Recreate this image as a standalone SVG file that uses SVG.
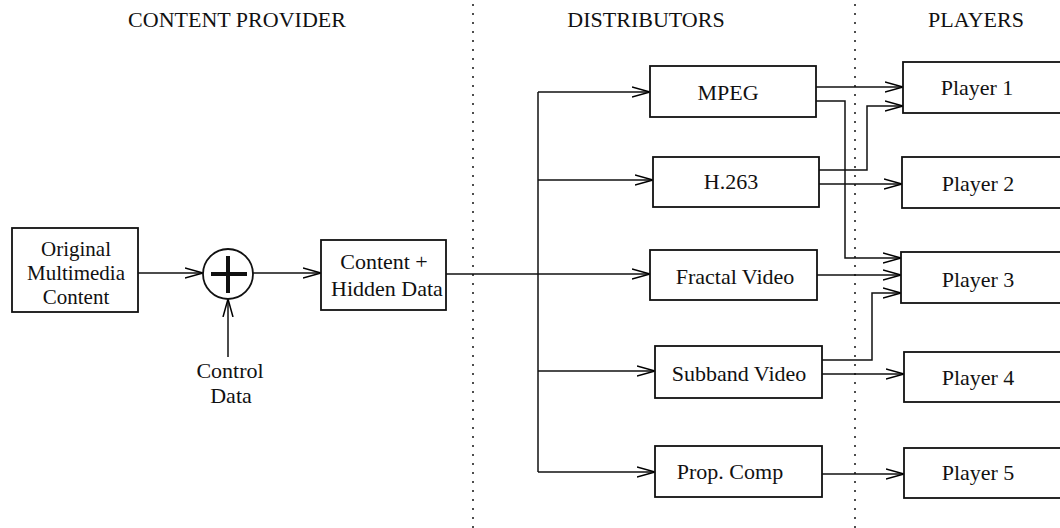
<svg xmlns="http://www.w3.org/2000/svg" width="1060" height="528" viewBox="0 0 1060 528">
<defs>
<marker id="arr" markerUnits="userSpaceOnUse" markerWidth="22" markerHeight="14" refX="18" refY="6" orient="auto">
<path d="M0,1 L18,6 L0,11" fill="none" stroke="#000" stroke-width="1.5"/>
</marker>
<style>
text{font-family:"Liberation Serif","Times New Roman",serif;font-size:22px;fill:#111;text-anchor:middle}
.sm{font-size:21px}
.box{fill:#fff;stroke:#111;stroke-width:1.8}
.ln{fill:none;stroke:#111;stroke-width:1.5}
.ar{fill:none;stroke:#111;stroke-width:1.5;marker-end:url(#arr)}
.dot{fill:none;stroke:#222;stroke-width:1.6;stroke-dasharray:2 7}
</style>
</defs>
<rect width="1060" height="528" fill="#fff"/>
<g id="headers">
<text x="237" y="27">CONTENT PROVIDER</text>
<text x="646" y="27">DISTRIBUTORS</text>
<text x="976" y="27">PLAYERS</text>
</g>
<g id="separators">
<line class="dot" x1="473" y1="4" x2="473" y2="528"/>
<line class="dot" x1="855" y1="4" x2="855" y2="528"/>
</g>
<g id="connectors">
<line class="ar" x1="138" y1="273" x2="203" y2="273"/>
<line class="ar" x1="253" y1="273" x2="321" y2="273"/>
<line class="ar" x1="228" y1="357" x2="228" y2="299"/>
<line class="ar" x1="446" y1="274" x2="650" y2="274"/>
<line class="ln" x1="538" y1="92" x2="538" y2="472"/>
<line class="ar" x1="538" y1="92" x2="650" y2="92"/>
<line class="ar" x1="538" y1="180" x2="653" y2="180"/>
<line class="ar" x1="538" y1="371" x2="655" y2="371"/>
<line class="ar" x1="538" y1="472" x2="655" y2="472"/>
<line class="ar" x1="816" y1="87" x2="903" y2="87"/>
<polyline class="ar" points="816,101 845,101 845,258 901,258"/>
<polyline class="ar" points="819,170 867,170 867,106 903,106"/>
<line class="ar" x1="819" y1="184" x2="902" y2="184"/>
<line class="ar" x1="817" y1="275" x2="901" y2="275"/>
<polyline class="ar" points="822,360 872,360 872,293 901,293"/>
<line class="ar" x1="822" y1="374" x2="904" y2="374"/>
<line class="ar" x1="822" y1="474" x2="904" y2="474"/>
</g>
<g id="original">
<rect class="box" x="12" y="228" width="126" height="84"/>
<text class="sm" x="76" y="256">Original</text>
<text class="sm" x="76" y="280">Multimedia</text>
<text class="sm" x="76" y="304">Content</text>
</g>
<g id="adder">
<circle cx="228" cy="274" r="25" fill="#fff" stroke="#111" stroke-width="1.8"/>
<line x1="211" y1="274" x2="247" y2="274" stroke="#111" stroke-width="4"/>
<line x1="228" y1="256" x2="228" y2="293" stroke="#111" stroke-width="4"/>
</g>
<g id="control">
<text x="230" y="378">Control</text>
<text x="231" y="403">Data</text>
</g>
<g id="hidden">
<rect class="box" x="321" y="240" width="125" height="70"/>
<text x="384" y="269">Content +</text>
<text x="387" y="296">Hidden Data</text>
</g>
<g id="mpeg">
<rect class="box" x="650" y="66" width="166" height="51"/>
<text x="728" y="100">MPEG</text>
</g>
<g id="h263">
<rect class="box" x="653" y="157" width="166" height="50"/>
<text x="731" y="189">H.263</text>
</g>
<g id="fractal">
<rect class="box" x="650" y="250" width="167" height="50"/>
<text x="735" y="284">Fractal Video</text>
</g>
<g id="subband">
<rect class="box" x="655" y="346" width="167" height="52"/>
<text x="739" y="381">Subband Video</text>
</g>
<g id="prop">
<rect class="box" x="655" y="446" width="167" height="51"/>
<text x="730" y="479">Prop. Comp</text>
</g>
<g id="player1">
<rect class="box" x="903" y="62" width="170" height="51"/>
<text x="977" y="95">Player 1</text>
</g>
<g id="player2">
<rect class="box" x="902" y="157" width="170" height="51"/>
<text x="978" y="191">Player 2</text>
</g>
<g id="player3">
<rect class="box" x="901" y="252" width="170" height="51"/>
<text x="978" y="287">Player 3</text>
</g>
<g id="player4">
<rect class="box" x="904" y="352" width="170" height="50"/>
<text x="978" y="385">Player 4</text>
</g>
<g id="player5">
<rect class="box" x="904" y="448" width="170" height="50"/>
<text x="978" y="480">Player 5</text>
</g>
</svg>
